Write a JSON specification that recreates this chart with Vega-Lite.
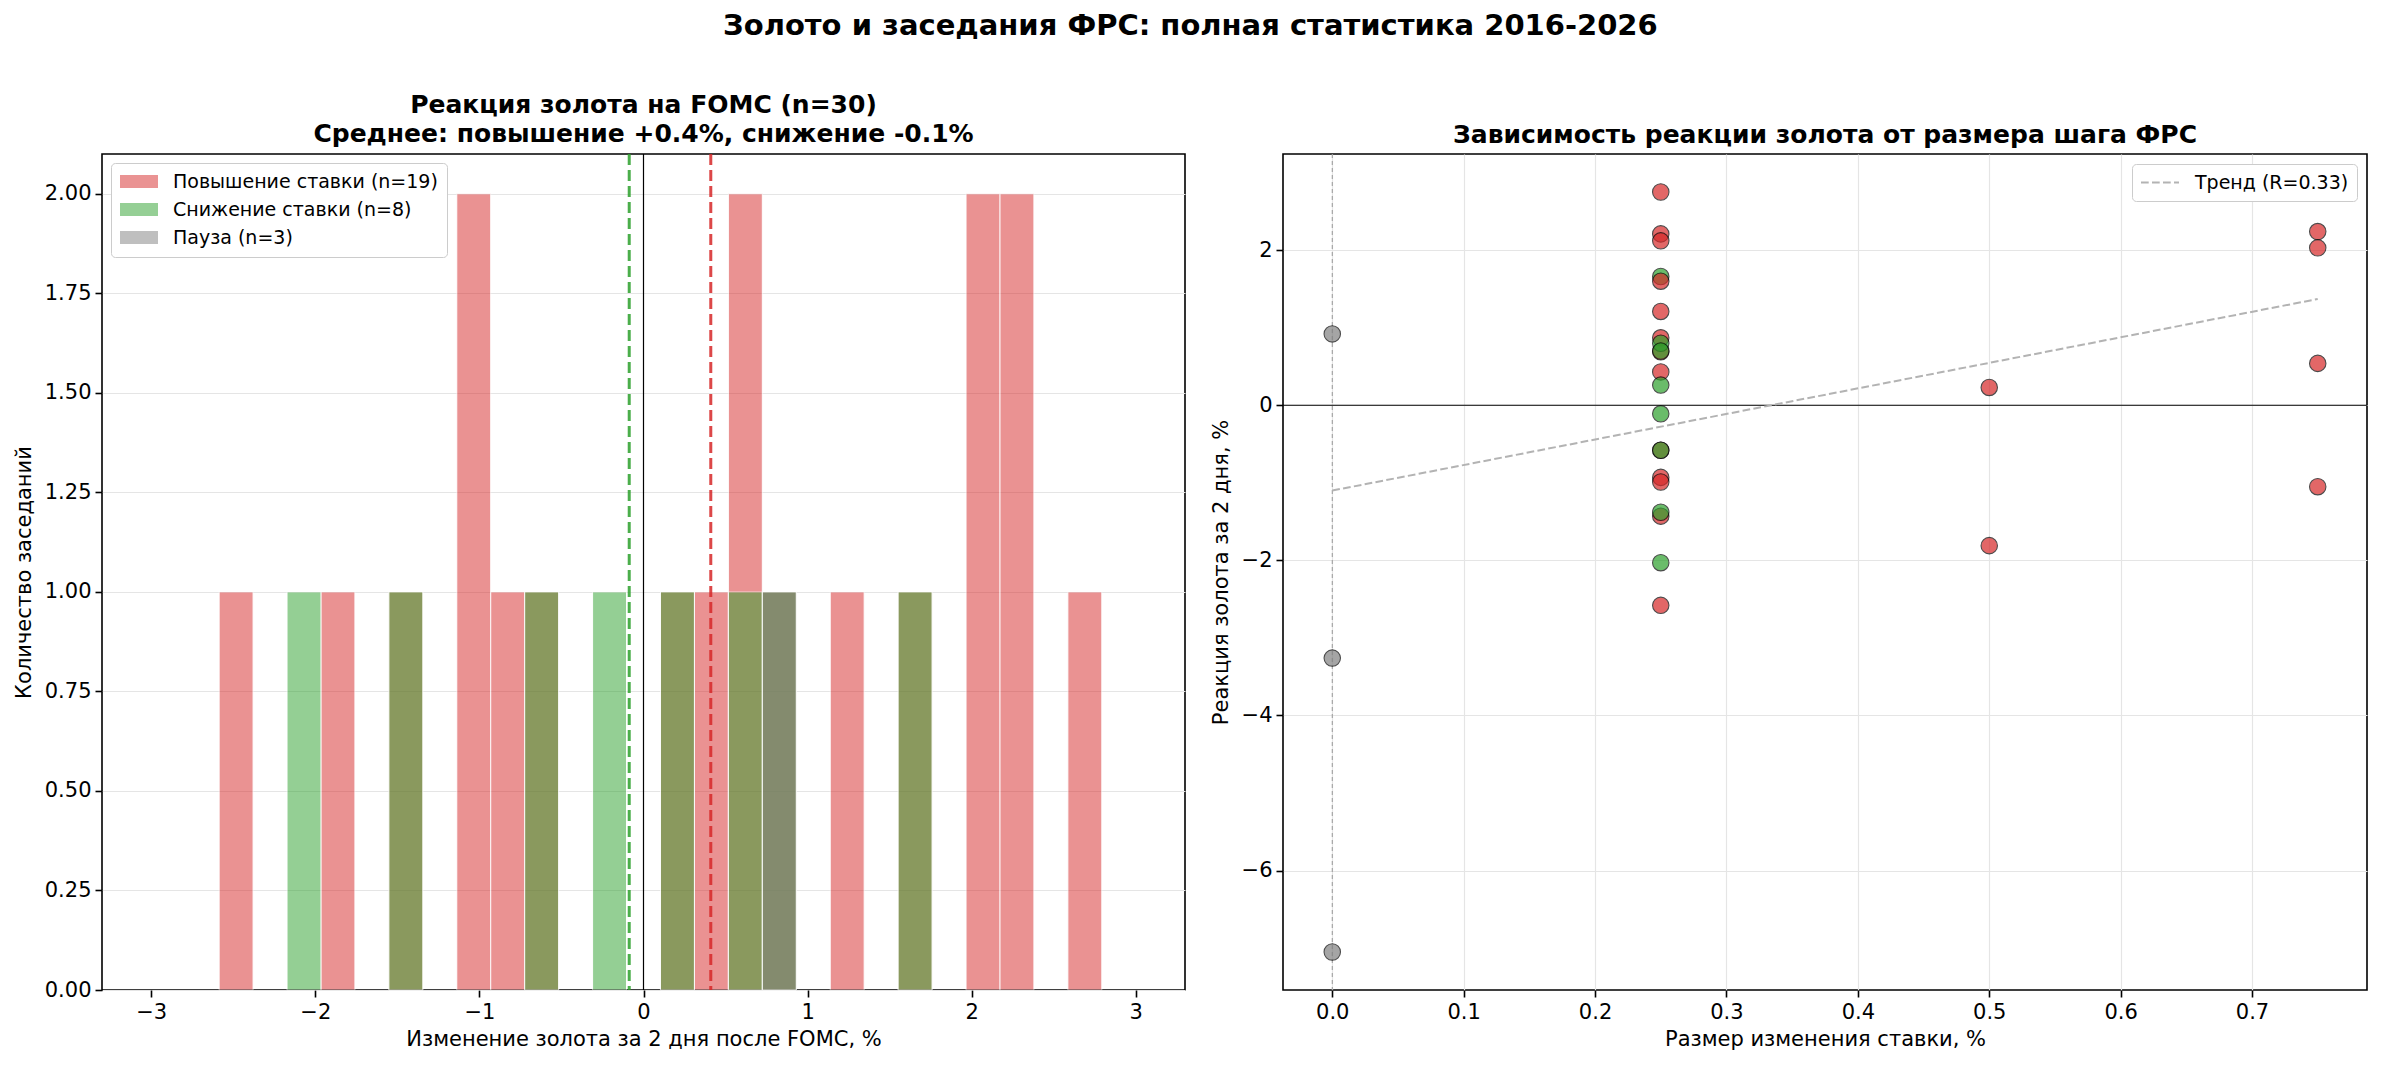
{
  "$schema": "https://vega.github.io/schema/vega-lite/v6.json",
  "padding": {"left": 12, "top": 11, "right": 15, "bottom": 6},
  "title": {
    "text": "Золото и заседания ФРС: полная статистика 2016-2026",
    "fontSize": 29,
    "fontWeight": "bold",
    "anchor": "middle",
    "offset": 51
  },
  "spacing": 98,
  "bounds": "flush",
  "resolve": {
    "scale": {"color": "independent", "strokeDash": "independent"},
    "legend": {"color": "independent", "strokeDash": "independent"}
  },
  "hconcat": [
    {
      "width": 1083,
      "height": 836,
      "title": {
        "text": ["Реакция золота на FOMC (n=30)", "Среднее: повышение +0.4%, снижение -0.1%"],
        "lineHeight": 29,
        "offset": 6
      },
      "layer": [
        {
          "data": {
            "values": [
              {"g": "Повышение ставки (n=19)", "x0": -2.5862, "x1": -2.3793, "n": 1},
              {"g": "Повышение ставки (n=19)", "x0": -1.9655, "x1": -1.7586, "n": 1},
              {"g": "Повышение ставки (n=19)", "x0": -1.5517, "x1": -1.3448, "n": 1},
              {"g": "Повышение ставки (n=19)", "x0": -1.1379, "x1": -0.9310, "n": 2},
              {"g": "Повышение ставки (n=19)", "x0": -0.9310, "x1": -0.7241, "n": 1},
              {"g": "Повышение ставки (n=19)", "x0": -0.7241, "x1": -0.5172, "n": 1},
              {"g": "Повышение ставки (n=19)", "x0": 0.1034, "x1": 0.3103, "n": 1},
              {"g": "Повышение ставки (n=19)", "x0": 0.3103, "x1": 0.5172, "n": 1},
              {"g": "Повышение ставки (n=19)", "x0": 0.5172, "x1": 0.7241, "n": 2},
              {"g": "Повышение ставки (n=19)", "x0": 0.7241, "x1": 0.9310, "n": 1},
              {"g": "Повышение ставки (n=19)", "x0": 1.1379, "x1": 1.3448, "n": 1},
              {"g": "Повышение ставки (n=19)", "x0": 1.5517, "x1": 1.7586, "n": 1},
              {"g": "Повышение ставки (n=19)", "x0": 1.9655, "x1": 2.1724, "n": 2},
              {"g": "Повышение ставки (n=19)", "x0": 2.1724, "x1": 2.3793, "n": 2},
              {"g": "Повышение ставки (n=19)", "x0": 2.5862, "x1": 2.7931, "n": 1},
              {"g": "Снижение ставки (n=8)", "x0": -2.1724, "x1": -1.9655, "n": 1},
              {"g": "Снижение ставки (n=8)", "x0": -1.5517, "x1": -1.3448, "n": 1},
              {"g": "Снижение ставки (n=8)", "x0": -0.7241, "x1": -0.5172, "n": 1},
              {"g": "Снижение ставки (n=8)", "x0": -0.3103, "x1": -0.1034, "n": 1},
              {"g": "Снижение ставки (n=8)", "x0": 0.1034, "x1": 0.3103, "n": 1},
              {"g": "Снижение ставки (n=8)", "x0": 0.5172, "x1": 0.7241, "n": 1},
              {"g": "Снижение ставки (n=8)", "x0": 0.7241, "x1": 0.9310, "n": 1},
              {"g": "Снижение ставки (n=8)", "x0": 1.5517, "x1": 1.7586, "n": 1},
              {"g": "Пауза (n=3)", "x0": 0.7241, "x1": 0.9310, "n": 1}
            ]
          },
          "mark": {"type": "bar", "opacity": 0.5, "stroke": "white", "strokeWidth": 1},
          "encoding": {
            "x": {
              "field": "x0",
              "type": "quantitative",
              "title": "Изменение золота за 2 дня после FOMC, %",
              "scale": {"domain": [-3.3, 3.3], "nice": false, "zero": false},
              "axis": {"values": [-3, -2, -1, 0, 1, 2, 3], "format": "d", "grid": false}
            },
            "x2": {"field": "x1"},
            "y": {
              "field": "n",
              "type": "quantitative",
              "title": "Количество заседаний",
              "scale": {"domain": [0, 2.1], "nice": false},
              "axis": {"values": [0, 0.25, 0.5, 0.75, 1, 1.25, 1.5, 1.75, 2], "format": ".2f", "grid": true}
            },
            "y2": {"datum": 0},
            "color": {
              "field": "g",
              "type": "nominal",
              "scale": {
                "domain": ["Повышение ставки (n=19)", "Снижение ставки (n=8)", "Пауза (n=3)"],
                "range": ["#d62728", "#2ca02c", "#7f7f7f"]
              },
              "legend": {
                "title": null,
                "orient": "top-left",
                "offset": 9,
                "symbolType": "M-1,-0.68H3V0.68H-1Z",
                "symbolSize": 361,
                "symbolOpacity": 0.5,
                "symbolStrokeWidth": 0,
                "labelFontSize": 19,
                "labelOffset": 34,
                "labelLimit": 0,
                "rowPadding": 8,
                "padding": 9,
                "fillColor": "white",
                "strokeColor": "#cccccc",
                "cornerRadius": 4
              }
            }
          }
        },
        {
          "data": {"values": [{"v": 0}]},
          "mark": {"type": "rule", "color": "black", "strokeWidth": 1.2},
          "encoding": {"x": {"field": "v", "type": "quantitative", "title": "Изменение золота за 2 дня после FOMC, %"}}
        },
        {
          "data": {"values": [{"m": 0.41}]},
          "mark": {"type": "rule", "color": "#d62728", "strokeWidth": 3, "strokeDash": [11, 5], "opacity": 0.85},
          "encoding": {"x": {"field": "m", "type": "quantitative", "title": "Изменение золота за 2 дня после FOMC, %"}}
        },
        {
          "data": {"values": [{"m": -0.087}]},
          "mark": {"type": "rule", "color": "#2ca02c", "strokeWidth": 3, "strokeDash": [11, 5], "opacity": 0.85},
          "encoding": {"x": {"field": "m", "type": "quantitative", "title": "Изменение золота за 2 дня после FOMC, %"}}
        }
      ]
    },
    {
      "width": 1084,
      "height": 836,
      "title": {"text": "Зависимость реакции золота от размера шага ФРС", "offset": 6},
      "layer": [
        {
          "data": {"values": [{"v": 0}]},
          "mark": {"type": "rule", "color": "#999999", "strokeWidth": 1, "strokeDash": [4, 3]},
          "encoding": {
            "x": {
              "field": "v",
              "type": "quantitative",
              "title": "Размер изменения ставки, %",
              "scale": {"domain": [-0.0375, 0.7875], "nice": false, "zero": false},
              "axis": {"values": [0, 0.1, 0.2, 0.3, 0.4, 0.5, 0.6, 0.7], "format": ".1f", "grid": true}
            }
          }
        },
        {
          "data": {"values": [{"v": 0}]},
          "mark": {"type": "rule", "color": "black", "strokeWidth": 1.2},
          "encoding": {
            "y": {
              "field": "v",
              "type": "quantitative",
              "title": "Реакция золота за 2 дня, %",
              "scale": {"domain": [-7.54, 3.24], "nice": false, "zero": false},
              "axis": {"values": [-6, -4, -2, 0, 2], "format": "d", "grid": true}
            }
          }
        },
        {
          "data": {
            "values": [
              {"step": 0, "r": -1.1, "label": "Тренд (R=0.33)"},
              {"step": 0.75, "r": 1.37, "label": "Тренд (R=0.33)"}
            ]
          },
          "mark": {"type": "line", "color": "#b3b3b3", "strokeWidth": 2},
          "encoding": {
            "x": {"field": "step", "type": "quantitative", "title": "Размер изменения ставки, %"},
            "y": {"field": "r", "type": "quantitative", "title": "Реакция золота за 2 дня, %"},
            "strokeDash": {
              "field": "label",
              "type": "nominal",
              "scale": {"range": [[7.7, 3.3]]},
              "legend": {
                "title": null,
                "orient": "top-right",
                "offset": 10,
                "symbolType": "M-1,0H3",
                "symbolSize": 361,
                "symbolFillColor": "transparent",
                "symbolStrokeColor": "#b3b3b3",
                "symbolStrokeWidth": 2,
                "symbolDash": [7.7, 3.3],
                "labelFontSize": 19,
                "labelOffset": 34,
                "labelLimit": 0,
                "padding": 8,
                "fillColor": "white",
                "strokeColor": "#cccccc",
                "cornerRadius": 4
              }
            }
          }
        },
        {
          "data": {
            "values": [
              {"step": 0.25, "r": 2.75, "grp": "hike"},
              {"step": 0.25, "r": 2.21, "grp": "hike"},
              {"step": 0.25, "r": 2.12, "grp": "hike"},
              {"step": 0.25, "r": 1.66, "grp": "cut"},
              {"step": 0.25, "r": 1.60, "grp": "hike"},
              {"step": 0.25, "r": 1.21, "grp": "hike"},
              {"step": 0.25, "r": 0.87, "grp": "hike"},
              {"step": 0.25, "r": 0.69, "grp": "hike"},
              {"step": 0.25, "r": 0.80, "grp": "cut"},
              {"step": 0.25, "r": 0.70, "grp": "cut"},
              {"step": 0.25, "r": 0.43, "grp": "hike"},
              {"step": 0.25, "r": 0.26, "grp": "cut"},
              {"step": 0.25, "r": -0.11, "grp": "cut"},
              {"step": 0.25, "r": -0.58, "grp": "hike"},
              {"step": 0.25, "r": -0.58, "grp": "cut"},
              {"step": 0.25, "r": -0.93, "grp": "hike"},
              {"step": 0.25, "r": -0.99, "grp": "hike"},
              {"step": 0.25, "r": -1.43, "grp": "hike"},
              {"step": 0.25, "r": -1.38, "grp": "cut"},
              {"step": 0.25, "r": -2.03, "grp": "cut"},
              {"step": 0.25, "r": -2.58, "grp": "hike"},
              {"step": 0.5, "r": 0.23, "grp": "hike"},
              {"step": 0.5, "r": -1.81, "grp": "hike"},
              {"step": 0.75, "r": 2.24, "grp": "hike"},
              {"step": 0.75, "r": 2.03, "grp": "hike"},
              {"step": 0.75, "r": 0.54, "grp": "hike"},
              {"step": 0.75, "r": -1.05, "grp": "hike"},
              {"step": 0, "r": 0.92, "grp": "pause"},
              {"step": 0, "r": -3.26, "grp": "pause"},
              {"step": 0, "r": -7.05, "grp": "pause"}
            ]
          },
          "mark": {"type": "point", "filled": true, "opacity": 0.7, "stroke": "black", "strokeWidth": 1.1, "size": 270},
          "encoding": {
            "x": {"field": "step", "type": "quantitative", "title": "Размер изменения ставки, %"},
            "y": {"field": "r", "type": "quantitative", "title": "Реакция золота за 2 дня, %"},
            "color": {
              "field": "grp",
              "type": "nominal",
              "scale": {"domain": ["hike", "cut", "pause"], "range": ["#d62728", "#2ca02c", "#7f7f7f"]},
              "legend": null
            }
          }
        }
      ]
    }
  ],
  "config": {
    "font": "DejaVu Sans",
    "view": {"stroke": "black", "strokeWidth": 1.6},
    "title": {"fontSize": 25, "fontWeight": "bold", "color": "black", "font": "DejaVu Sans"},
    "axis": {
      "domain": false,
      "labelFont": "DejaVu Sans",
      "titleFont": "DejaVu Sans",
      "labelFontSize": 21,
      "titleFontSize": 21,
      "titleFontWeight": "normal",
      "labelColor": "black",
      "titleColor": "black",
      "tickColor": "black",
      "tickSize": 7,
      "tickWidth": 1.6,
      "labelPadding": 4,
      "titlePadding": 6,
      "gridColor": "#e5e5e5",
      "gridWidth": 1.2
    },
    "axisY": {"titlePadding": 10},
    "legend": {"labelFont": "DejaVu Sans", "labelColor": "black"}
  }
}
